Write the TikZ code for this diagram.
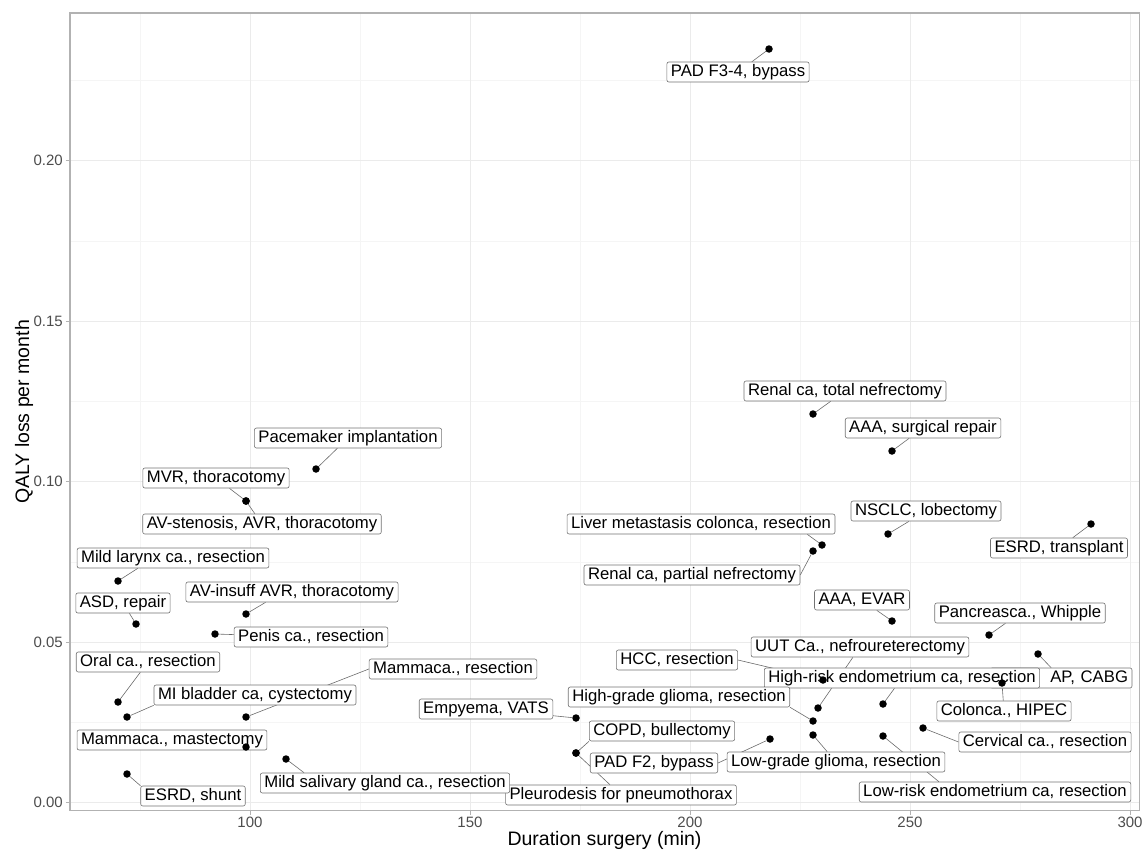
\documentclass[tikz,border=0pt]{standalone}
\usepackage{fontspec}
\setmainfont{Liberation Sans}
\usetikzlibrary{backgrounds}
\definecolor{gridmajgrey}{gray}{0.92}
\definecolor{gridmingrey}{gray}{0.96}
\definecolor{axisgrey}{gray}{0.70}
\definecolor{textgrey}{gray}{0.30}
\definecolor{labelgrey}{gray}{0.45}
\definecolor{seggrey}{gray}{0.42}

\begin{document}
\begin{tikzpicture}[x=1pt ,y=-1pt ,
obs/.style ={ circle ,fill=black ,inner sep=0pt ,minimum size=7.5pt},
lbl/.style ={ draw=labelgrey ,fill=white ,rounded corners=2pt ,line width=0.6pt ,
font=\fontsize{16.7}{20}\selectfont ,inner xsep=4pt ,inner ysep=2pt ,
text height=12.5pt ,text depth=3.5pt},
seg/.style ={ draw=seggrey ,line width=0.6pt},
gridmaj/.style ={ draw=gridmajgrey ,line width=0.8pt},
gridmin/.style ={ draw=gridmingrey ,line width=0.5pt},
ticklbl/.style ={ text=textgrey ,font=\fontsize{15}{18}\selectfont ,inner sep=0pt}]

\useasboundingbox (0,0) rectangle (1143,854);

% grid
\begin{pgfonlayer}{background}
\foreach \gx in {140,360,580,800,1020} \draw[gridmin] (\gx,13) -- (\gx,810.5);
\foreach \gy in {80,241,401,562,722} \draw[gridmin] (70,\gy) -- (1139.5,\gy);
\foreach \gx in {250,470,690,910,1130} \draw[gridmaj] (\gx,13) -- (\gx,810.5);
\foreach \gy in {160,321,481,642,802} \draw[gridmaj] (70,\gy) -- (1139.5,\gy);
\end{pgfonlayer}

% labels
\node[lbl] (l1) at (738,72) {PAD F3-4, bypass};
\node[lbl] (l2) at (845,391) {Renal ca, total nefrectomy};
\node[lbl] (l3) at (923,428) {AAA, surgical repair};
\node[lbl] (l4) at (926,511) {NSCLC, lobectomy};
\node[lbl] (l5) at (1059,548) {ESRD, transplant};
\node[lbl] (l6) at (701,524) {Liver metastasis colonca, resection};
\node[lbl] (l7) at (692,575) {Renal ca, partial nefrectomy};
\node[lbl] (l8) at (862,600) {AAA, EVAR};
\node[lbl] (l9) at (1020,613) {Pancreasca., Whipple};
\node[lbl ,text width=134pt ,align=right] (l10) at (1061,678) {AP, CABG};
\node[lbl] (l11) at (902,678) {High-risk endometrium ca, resection};
\node[lbl] (l12) at (860,647) {UUT Ca., nefroureterectomy};
\node[lbl] (l13) at (677,660) {HCC, resection};
\node[lbl] (l14) at (679,697) {High-grade glioma, resection};
\node[lbl] (l15) at (836,762) {Low-grade glioma, resection};
\node[lbl] (l16) at (654,763) {PAD F2, bypass};
\node[lbl] (l17) at (995,792) {Low-risk endometrium ca, resection};
\node[lbl] (l18) at (1004,711) {Colonca., HIPEC};
\node[lbl] (l19) at (1045,742) {Cervical ca., resection};
\node[lbl] (l20) at (486,709) {Empyema, VATS};
\node[lbl] (l21) at (662,731) {COPD, bullectomy};
\node[lbl] (l22) at (621,795) {Pleurodesis for pneumothorax};
\node[lbl] (l23) at (148,662) {Oral ca., resection};
\node[lbl] (l24) at (255,695) {MI bladder ca, cystectomy};
\node[lbl] (l25) at (453,669) {Mammaca., resection};
\node[lbl] (l26) at (172,740) {Mammaca., mastectomy};
\node[lbl] (l27) at (385,783) {Mild salivary gland ca., resection};
\node[lbl] (l28) at (193,796) {ESRD, shunt};
\node[lbl] (l29) at (348,438) {Pacemaker implantation};
\node[lbl] (l30) at (216,478) {MVR, thoracotomy};
\node[lbl] (l31) at (262,524) {AV-stenosis, AVR, thoracotomy};
\node[lbl] (l32) at (173,558) {Mild larynx ca., resection};
\node[lbl] (l33) at (123,603) {ASD, repair};
\node[lbl] (l34) at (292,592) {AV-insuff AVR, thoracotomy};
\node[lbl] (l35) at (311,637) {Penis ca., resection};

% observations
\node[obs] (p1) at (769,49) {};
\node[obs] (p2) at (813,414) {};
\node[obs] (p3) at (892,451) {};
\node[obs] (p4) at (888,534) {};
\node[obs] (p5) at (1091,524) {};
\node[obs] (p6) at (822,545) {};
\node[obs] (p7) at (813,551) {};
\node[obs] (p8) at (892,621) {};
\node[obs] (p9) at (989,635) {};
\node[obs] (p10) at (1038,654) {};
\node[obs] (p11) at (883,704) {};
\node[obs] (p12) at (818,708) {};
\node[obs] (p13) at (823,680) {};
\node[obs] (p14) at (813,721) {};
\node[obs] (p15) at (813,735) {};
\node[obs] (p16) at (770,739) {};
\node[obs] (p17) at (883,736) {};
\node[obs] (p18) at (1002,683) {};
\node[obs] (p19) at (923,728) {};
\node[obs] (p20) at (576,718) {};
\node[obs] (p21) at (576,753) {};
\node[obs] (p22) at (576,753) {};
\node[obs] (p23) at (118,702) {};
\node[obs] (p24) at (127,717) {};
\node[obs] (p25) at (246,717) {};
\node[obs] (p26) at (246,747) {};
\node[obs] (p27) at (286,759) {};
\node[obs] (p28) at (127,774) {};
\node[obs] (p29) at (316,469) {};
\node[obs] (p30) at (246,501) {};
\node[obs] (p31) at (246,501) {};
\node[obs] (p32) at (118,581) {};
\node[obs] (p33) at (136,624) {};
\node[obs] (p34) at (246,614) {};
\node[obs] (p35) at (215,634) {};

% segments
\begin{pgfonlayer}{background}
\draw[seg] (p1) -- (l1);
\draw[seg] (p2) -- (l2);
\draw[seg] (p3) -- (l3);
\draw[seg] (p4) -- (l4);
\draw[seg] (p5) -- (l5);
\draw[seg] (p6) -- ([xshift=-28pt]l6.south east);
\draw[seg] (p7) -- (l7.east);
\draw[seg] (p8) -- (l8);
\draw[seg] (p9) -- (l9);
\draw[seg] (p10) -- (l10);
\draw[seg] (p11) -- (l11);
\draw[seg] (p12) -- (l12);
\draw[seg] (p13) -- (l13.east);
\draw[seg] (p14) -- (l14.south east);
\draw[seg] (p15) -- (l15);
\draw[seg] (p16) -- (l16.east);
\draw[seg] (p17) -- ([xshift=80pt]l17.north west);
\draw[seg] (p18) -- (l18);
\draw[seg] (p19) -- (l19.west);
\draw[seg] (p20) -- (l20);
\draw[seg] (p21) -- (l21.south west);
\draw[seg] (p22) -- (l22);
\draw[seg] (p23) -- (l23);
\draw[seg] (p24) -- (l24.south west);
\draw[seg] (p25) -- (l25.west);
\draw[seg] (p27) -- ([xshift=44pt]l27.north west);
\draw[seg] (p28) -- (l28.north west);
\draw[seg] (p29) -- (l29);
\draw[seg] (p30) -- (l30);
\draw[seg] (p31) -- (l31);
\draw[seg] (p32) -- ([xshift=61pt]l32.south west);
\draw[seg] (p33) -- (l33);
\draw[seg] (p34) -- ([xshift=80pt]l34.south west);
\draw[seg] (p35) -- (l35);
\end{pgfonlayer}

% axes
\draw[axisgrey ,line width=1.1pt] (70,13) rectangle (1139.5,810.5);
\foreach \v/\px in {100/250,150/470,200/690,250/910,300/1130} {
\draw[axisgrey ,line width=0.8pt] (\px,810.5) -- (\px,815);
\node[ticklbl ,anchor=base] (xt\v) at (\px,827.5) {\v};
}
\foreach \v/\py [count=\i] in {0.00/802,0.05/642,0.10/481,0.15/321,0.20/160} {
\draw[axisgrey ,line width=0.8pt] (65.5,\py) -- (70,\py);
\node[ticklbl ,anchor=base east] (yt\i) at (63,\py+5.5) {\v};
}
\node[font=\fontsize{19.5}{24}\selectfont ,anchor=base] (xtitle) at (604.5,845) {Duration surgery (min)};
\node[font=\fontsize{19.5}{24}\selectfont ,rotate=90] (ytitle) at (24,412) {QALY loss per month};
\end{tikzpicture}
\end{document}
